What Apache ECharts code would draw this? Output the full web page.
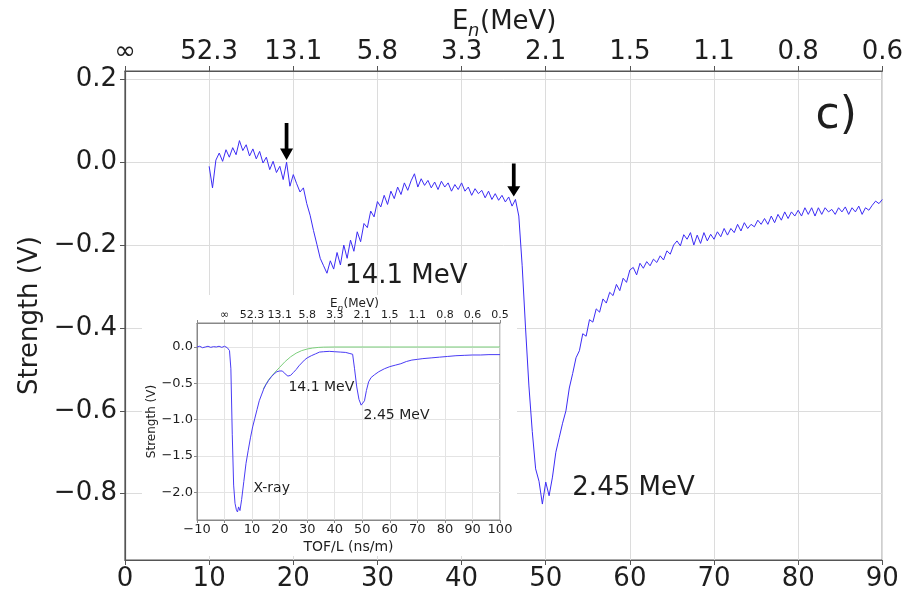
<!DOCTYPE html>
<html>
<head>
<meta charset="utf-8">
<script src="https://cdn.jsdelivr.net/npm/echarts@6/dist/echarts.min.js"></script>
<style>html,body{margin:0;padding:0;background:#fff}#c{width:906px;height:592px}</style>
</head>
<body>
<div id="c"></div>
<script>
// ---------- main panel data (TOF/L in ns/m, strength in V) ----------
const mainTof = [
 10.0,10.4,10.8,11.2,11.6,12.0,12.4,12.8,13.2,13.6,
 14.0,14.4,14.8,15.2,15.6,16.0,16.4,16.8,17.2,17.6,
 18.0,18.4,18.8,19.2,19.6,20.0,20.4,20.8,21.2,21.6,
 22.0,22.4,22.8,23.2,23.6,24.0,24.4,24.8,25.2,25.6,
 26.0,26.4,26.8,27.2,27.6,28.0,28.4,28.8,29.2,29.6,
 30.0,30.4,30.8,31.2,31.6,32.0,32.4,32.8,33.2,33.6,
 34.0,34.4,34.8,35.2,35.6,36.0,36.4,36.8,37.2,37.6,
 38.0,38.4,38.8,39.2,39.6,40.0,40.4,40.8,41.2,41.6,
 42.0,42.4,42.8,43.2,43.6,44.0,44.4,44.8,45.2,45.6,
 46.0,46.4,46.8,47.2,47.6,48.0,48.4,48.8,49.2,49.6,
 50.0,50.4,50.8,51.2,51.6,52.0,52.4,52.8,53.2,53.6,
 54.0,54.4,54.8,55.2,55.6,56.0,56.4,56.8,57.2,57.6,
 58.0,58.4,58.8,59.2,59.6,60.0,60.4,60.8,61.2,61.6,
 62.0,62.4,62.8,63.2,63.6,64.0,64.4,64.8,65.2,65.6,
 66.0,66.4,66.8,67.2,67.6,68.0,68.4,68.8,69.2,69.6,
 70.0,70.4,70.8,71.2,71.6,72.0,72.4,72.8,73.2,73.6,
 74.0,74.4,74.8,75.2,75.6,76.0,76.4,76.8,77.2,77.6,
 78.0,78.4,78.8,79.2,79.6,80.0,80.4,80.8,81.2,81.6,
 82.0,82.4,82.8,83.2,83.6,84.0,84.4,84.8,85.2,85.6,
 86.0,86.4,86.8,87.2,87.6,88.0,88.4,88.8,89.2,89.6,
 90.0
];
const mainStrength = [
 -0.010,-0.062,0.005,0.022,0.002,0.030,0.012,0.035,0.018,0.052,
 0.028,0.042,0.015,0.032,0.008,0.026,-0.002,0.012,-0.018,0.002,
 -0.025,-0.010,-0.042,0.000,-0.058,-0.030,-0.052,-0.072,-0.062,-0.100,
 -0.128,-0.165,-0.198,-0.232,-0.250,-0.268,-0.238,-0.258,-0.218,-0.248,
 -0.200,-0.232,-0.188,-0.215,-0.168,-0.192,-0.148,-0.158,-0.118,-0.132,
 -0.095,-0.108,-0.080,-0.102,-0.070,-0.088,-0.060,-0.078,-0.050,-0.068,
 -0.045,-0.028,-0.060,-0.040,-0.056,-0.044,-0.062,-0.048,-0.066,-0.046,
 -0.060,-0.050,-0.070,-0.054,-0.066,-0.050,-0.070,-0.060,-0.080,-0.064,
 -0.076,-0.068,-0.086,-0.070,-0.090,-0.076,-0.092,-0.080,-0.096,-0.084,
 -0.106,-0.090,-0.130,-0.250,-0.400,-0.540,-0.650,-0.740,-0.770,-0.825,
 -0.772,-0.805,-0.760,-0.700,-0.665,-0.630,-0.600,-0.545,-0.510,-0.472,
 -0.455,-0.414,-0.420,-0.380,-0.386,-0.354,-0.362,-0.330,-0.340,-0.314,
 -0.322,-0.295,-0.310,-0.280,-0.290,-0.260,-0.254,-0.272,-0.244,-0.256,
 -0.240,-0.250,-0.234,-0.242,-0.226,-0.236,-0.214,-0.222,-0.200,-0.190,
 -0.202,-0.175,-0.186,-0.170,-0.200,-0.176,-0.196,-0.170,-0.190,-0.174,
 -0.186,-0.168,-0.180,-0.160,-0.176,-0.160,-0.170,-0.150,-0.166,-0.146,
 -0.160,-0.150,-0.156,-0.140,-0.150,-0.136,-0.150,-0.130,-0.146,-0.126,
 -0.140,-0.120,-0.136,-0.120,-0.130,-0.116,-0.130,-0.110,-0.126,-0.110,
 -0.130,-0.110,-0.126,-0.110,-0.120,-0.114,-0.126,-0.110,-0.120,-0.108,
 -0.126,-0.110,-0.120,-0.106,-0.126,-0.110,-0.116,-0.104,-0.094,-0.100,
 -0.090
];
const mainTicksX = [0,10,20,30,40,50,60,70,80,90];
const mainEnergyLabels = ['\u221e','52.3','13.1','5.8','3.3','2.1','1.5','1.1','0.8','0.6'];
const arrowTof = [19.2, 46.2];
const arrowTip = [0.005, -0.083];
const mainNoteX = [26.1, 53.1, 82.0];
const mainNoteY = [-0.276, -0.788, 0.11];
const mainNoteText = ['14.1 MeV', '2.45 MeV', 'c)'];

// ---------- inset data ----------
const insetTof = [
 -10,-9,-8,-7,-6,-5,-4,-3,-2,-1,
 0,1,1.8,2.3,2.8,3.3,3.8,4.3,4.7,5.1,
 5.6,6.2,7.0,7.8,8.6,9.4,10.2,11.0,11.8,12.6,
 13.4,14.2,15.0,16.0,17.0,18.0,19.0,20.0,21.0,22.0,
 23.0,24.0,25.0,26.0,27.0,28.0,29.0,30.0,31.5,33.0,
 34.5,36,38,40,42,44,45.5,46.5,47.2,48.0,
 48.8,49.6,50.2,50.8,51.5,52.3,53.2,54.5,56,58,
 60,62,64,66,68,70,72,75,78,81,
 84,87,90,93,96,100
];
const insetStrength = [
 0.0,0.01,-0.01,0.0,0.01,-0.005,0.005,0.0,0.01,-0.005,
 0.01,-0.01,-0.05,-0.3,-1.2,-1.9,-2.15,-2.24,-2.27,-2.2,
 -2.25,-2.1,-1.85,-1.6,-1.42,-1.25,-1.1,-0.98,-0.86,-0.74,
 -0.66,-0.58,-0.52,-0.46,-0.41,-0.37,-0.34,-0.33,-0.33,-0.37,
 -0.40,-0.39,-0.35,-0.31,-0.26,-0.22,-0.18,-0.15,-0.12,-0.095,
 -0.07,-0.065,-0.06,-0.065,-0.07,-0.075,-0.09,-0.1,-0.3,-0.55,
 -0.72,-0.8,-0.82,-0.74,-0.6,-0.48,-0.42,-0.38,-0.34,-0.3,
 -0.27,-0.25,-0.23,-0.2,-0.18,-0.17,-0.16,-0.15,-0.14,-0.13,
 -0.12,-0.115,-0.11,-0.11,-0.105,-0.105
];
const fitTof = [14,16,18,20,22,24,26,28,30,32,34,36,40,50,60,70,80,90,100];
const fitStrength = [-0.58,-0.45,-0.36,-0.28,-0.2,-0.135,-0.085,-0.05,-0.028,-0.014,-0.006,-0.002,0,0,0,0,0,0,0];
const insetEnergyLabels = ['\u221e','52.3','13.1','5.8','3.3','2.1','1.5','1.1','0.8','0.6','0.5'];
const insetNoteX = [23.0, 50.3, 10.3];
const insetNoteY = [-0.55, -0.94, -1.94];
const insetNoteText = ['14.1 MeV', '2.45 MeV', 'X-ray'];

// ---------- build ----------
const zip = (a, b) => a.map((v, i) => [v, b[i]]);
const minus = s => String(s).replace('-', '\u2212');
const FONT = 'DejaVu Sans';
const TXT = '#1e1e1e';
const AX = '#555';

const chart = echarts.init(document.getElementById('c'), null, {renderer: 'canvas'});
const option = {
  animation: false,
  backgroundColor: '#fff',
  textStyle: {fontFamily: FONT},
  grid: [
    {left: 125, right: 23, top: 71, bottom: 30, show: true, borderColor: AX, borderWidth: 1.2, backgroundColor: 'transparent'},
    {left: 197, top: 323, width: 303, height: 197, show: true, borderColor: '#888', borderWidth: 1, z: 60, backgroundColor: '#fff'}
  ],
  xAxis: [
    {gridIndex: 0, type: 'value', min: 0, max: 90, interval: 10, position: 'bottom',
     axisLine: {show: true, onZero: false, lineStyle: {color: AX, width: 1.2}},
     axisTick: {show: true, length: 5, lineStyle: {color: AX}},
     axisLabel: {fontSize: 26, color: TXT, margin: 6, fontFamily: FONT},
     splitLine: {show: true, lineStyle: {color: '#dcdcdc', width: 1}}},
    {gridIndex: 0, type: 'value', min: 0, max: 90, interval: 10, position: 'top',
     axisLine: {show: true, onZero: false, lineStyle: {color: AX, width: 1.2}},
     axisTick: {show: true, length: 5, lineStyle: {color: AX}},
     axisLabel: {fontSize: 26, color: TXT, margin: 6, fontFamily: FONT,
       formatter: v => { const i = mainTicksX.indexOf(v); return i >= 0 ? mainEnergyLabels[i] : ''; }},
     splitLine: {show: false}},
    {gridIndex: 1, type: 'value', min: -10, max: 100, interval: 10, position: 'bottom', z: 60,
     name: 'TOF/L (ns/m)', nameLocation: 'middle', nameGap: 20,
     nameTextStyle: {fontSize: 14, color: TXT, fontFamily: FONT},
     axisLine: {show: true, onZero: false, lineStyle: {color: '#888'}},
     axisTick: {show: true, length: 3, lineStyle: {color: '#888'}},
     axisLabel: {fontSize: 13, color: TXT, margin: 3, fontFamily: FONT, formatter: v => minus(v)},
     splitLine: {show: true, lineStyle: {color: '#e4e4e4'}}},
    {gridIndex: 1, type: 'value', min: -10, max: 100, interval: 10, position: 'top', z: 60,
     axisLine: {show: true, onZero: false, lineStyle: {color: '#888'}},
     axisTick: {show: true, length: 3, lineStyle: {color: '#888'}},
     axisLabel: {fontSize: 11, color: TXT, margin: 2, fontFamily: FONT,
       formatter: v => (v >= 0 && v % 10 === 0 && insetEnergyLabels[v / 10]) ? insetEnergyLabels[v / 10] : ''},
     splitLine: {show: false}}
  ],
  yAxis: [
    {gridIndex: 0, type: 'value', min: -0.96, max: 0.22, splitNumber: 6,
     name: 'Strength (V)', nameLocation: 'middle', nameGap: 73,
     nameTextStyle: {fontSize: 26, color: TXT, fontFamily: FONT},
     axisLine: {show: true, onZero: false, lineStyle: {color: AX, width: 1.2}},
     axisTick: {show: true, length: 5, lineStyle: {color: AX}},
     axisLabel: {fontSize: 26, color: TXT, margin: 8, fontFamily: FONT, showMinLabel: false, showMaxLabel: false,
       formatter: v => minus(v.toFixed(1))},
     splitLine: {show: true, lineStyle: {color: '#dcdcdc', width: 1}}},
    {gridIndex: 1, type: 'value', min: -2.38, max: 0.33, splitNumber: 5, z: 60,
     name: 'Strength (V)', nameLocation: 'middle', nameGap: 38,
     nameTextStyle: {fontSize: 12, color: TXT, fontFamily: FONT},
     axisLine: {show: true, onZero: false, lineStyle: {color: '#888'}},
     axisTick: {show: true, length: 3, lineStyle: {color: '#888'}},
     axisLabel: {fontSize: 13, color: TXT, margin: 4, fontFamily: FONT, showMinLabel: false, showMaxLabel: false,
       formatter: v => minus(v.toFixed(1))},
     splitLine: {show: true, lineStyle: {color: '#e4e4e4'}}}
  ],
  graphic: [
    {type: 'rect', z: 50, silent: true, shape: {x: 142, y: 295, width: 375, height: 261}, style: {fill: '#fff'}},
    {type: 'text', z: 100, left: 452, top: 9, style: {text: 'E', fontSize: 26, fontFamily: FONT, fill: TXT}},
    {type: 'text', z: 100, left: 468, top: 22, style: {text: 'n', fontSize: 18, fontStyle: 'italic', fontFamily: FONT, fill: TXT}},
    {type: 'text', z: 100, left: 480, top: 9, style: {text: '(MeV)', fontSize: 26, fontFamily: FONT, fill: TXT}},
    {type: 'text', z: 100, left: 330, top: 298, style: {text: 'E', fontSize: 12, fontFamily: FONT, fill: TXT}},
    {type: 'text', z: 100, left: 337.6, top: 304, style: {text: 'n', fontSize: 9, fontStyle: 'italic', fontFamily: FONT, fill: TXT}},
    {type: 'text', z: 100, left: 343.5, top: 298, style: {text: '(MeV)', fontSize: 12, fontFamily: FONT, fill: TXT}}
  ],
  series: [
    {type: 'line', xAxisIndex: 0, yAxisIndex: 0, data: zip(mainTof, mainStrength), showSymbol: false,
     lineStyle: {color: '#3c2cf5', width: 1}, z: 2},
    {type: 'scatter', xAxisIndex: 0, yAxisIndex: 0, z: 5,
     symbol: 'path://M5,0 L9,0 L9,26 L14,26 L7,38 L0,26 L5,26 Z', symbolKeepAspect: false,
     data: [
       {value: [arrowTof[0], arrowTip[0]], symbolSize: [13, 37], symbolOffset: [0, -18.5]},
       {value: [arrowTof[1], arrowTip[1]], symbolSize: [13, 33], symbolOffset: [0, -16.5]}
     ],
     itemStyle: {color: '#000', opacity: 1}},
    {type: 'scatter', xAxisIndex: 0, yAxisIndex: 0, z: 5, symbolSize: 1,
     itemStyle: {color: 'rgba(0,0,0,0)', opacity: 1},
     data: mainNoteX.map((x, i) => ({value: [x, mainNoteY[i]], name: mainNoteText[i],
       label: {fontSize: i === 2 ? 44 : 26}})),
     label: {show: true, position: 'right', distance: 0, color: TXT, opacity: 1, fontFamily: FONT, formatter: p => p.name}},
    {type: 'line', xAxisIndex: 2, yAxisIndex: 1, data: zip(fitTof, fitStrength), showSymbol: false,
     lineStyle: {color: '#7ccf7c', width: 1}, z: 70},
    {type: 'line', xAxisIndex: 2, yAxisIndex: 1, data: zip(insetTof, insetStrength), showSymbol: false,
     lineStyle: {color: '#4a3cf5', width: 1}, z: 71},
    {type: 'scatter', xAxisIndex: 2, yAxisIndex: 1, z: 80, symbolSize: 1,
     itemStyle: {color: 'rgba(0,0,0,0)', opacity: 1},
     data: insetNoteX.map((x, i) => ({value: [x, insetNoteY[i]], name: insetNoteText[i]})),
     label: {show: true, position: 'right', distance: 0, color: TXT, opacity: 1, fontSize: 14, fontFamily: FONT, formatter: p => p.name}}
  ]
};
chart.setOption(option);
</script>
</body>
</html>
